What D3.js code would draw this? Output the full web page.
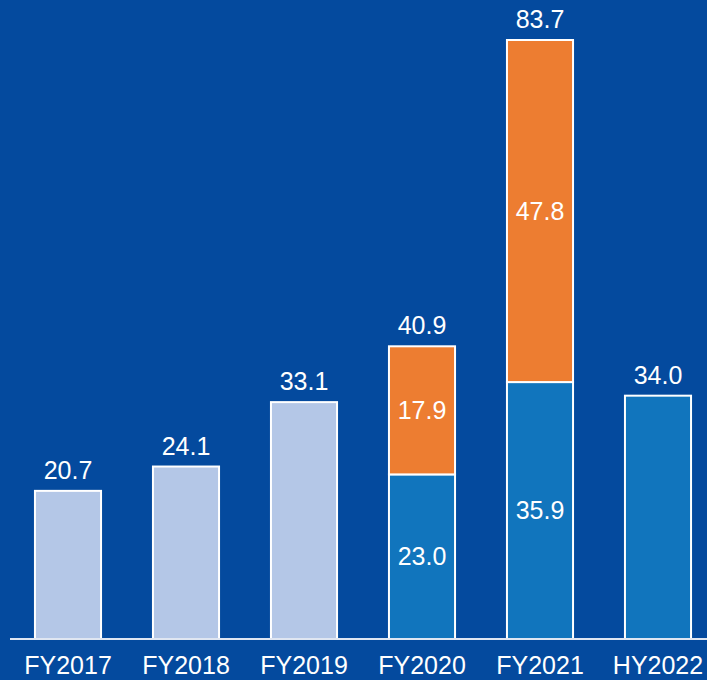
<!DOCTYPE html>
<html>
<head>
<meta charset="utf-8">
<script src="https://cdn.jsdelivr.net/npm/d3@7"></script>
<style>
  html, body { margin: 0; padding: 0; background: #044a9e; }
  svg { display: block; }
  text { font-family: "Liberation Sans", Arial, sans-serif; fill: #fff; }
</style>
</head>
<body>
<svg id="chart"></svg>
<script>
// data
var categories = ['FY2017', 'FY2018', 'FY2019', 'FY2020', 'FY2021', 'HY2022'];
var baseValues = [20.7, 24.1, 33.1, 23.0, 35.9, 34.0];
var topValues  = [0, 0, 0, 17.9, 47.8, 0];
var totalLabels = ['20.7', '24.1', '33.1', '40.9', '83.7', '34.0'];
var baseLabels  = ['', '', '', '23.0', '35.9', ''];
var topLabels   = ['', '', '', '17.9', '47.8', ''];

var w = 707, h = 680;
var baseY = 639;
var fs = '25px';

var svg = d3.select('#chart').attr('width', w).attr('height', h);
svg.append('rect').attr('width', w).attr('height', h).attr('fill', '#044a9e');

var x = d3.scaleBand().domain(categories).range([9, 717]).paddingInner(0.44).paddingOuter(0.22);
var y = d3.scaleLinear().domain([0, 83.7]).range([baseY, 40]);

function baseColor(i) {
    return topValues[i] > 0 || i === 5 ? '#1175bd' : '#b4c7e7';
}

var g = svg.append('g');

// lower segments
g.selectAll('.base').data(categories).enter().append('rect')
    .attr('class', 'base')
    .attr('x', function (d) { return x(d); })
    .attr('width', x.bandwidth())
    .attr('y', function (d, i) { return y(baseValues[i]); })
    .attr('height', function (d, i) { return y(0) - y(baseValues[i]); })
    .attr('fill', function (d, i) { return baseColor(i); })
    .attr('stroke', '#fff').attr('stroke-width', 2);

// upper (orange) segments
g.selectAll('.top').data(categories.filter(function (d, i) { return topValues[i] > 0; }))
    .enter().append('rect')
    .attr('class', 'top')
    .attr('x', function (d) { return x(d); })
    .attr('width', x.bandwidth())
    .attr('y', function (d) { var i = categories.indexOf(d); return y(baseValues[i] + topValues[i]); })
    .attr('height', function (d) { var i = categories.indexOf(d); return y(baseValues[i]) - y(baseValues[i] + topValues[i]); })
    .attr('fill', '#ed7d31')
    .attr('stroke', '#fff').attr('stroke-width', 2);

// baseline
svg.append('line')
    .attr('x1', 10).attr('x2', w)
    .attr('y1', baseY).attr('y2', baseY)
    .attr('stroke', '#dfe6f2').attr('stroke-width', 2);

// total labels
g.selectAll('.total').data(categories).enter().append('text')
    .attr('x', function (d) { return x(d) + x.bandwidth() / 2; })
    .attr('y', function (d, i) { return y(baseValues[i] + topValues[i]) - 12; })
    .attr('text-anchor', 'middle')
    .style('font-size', fs)
    .text(function (d, i) { return totalLabels[i]; });

// segment labels
g.selectAll('.blab').data(categories).enter().append('text')
    .attr('x', function (d) { return x(d) + x.bandwidth() / 2; })
    .attr('y', function (d, i) { return (y(0) + y(baseValues[i])) / 2; })
    .attr('dy', '0.35em')
    .attr('text-anchor', 'middle')
    .style('font-size', fs)
    .text(function (d, i) { return baseLabels[i]; });

g.selectAll('.tlab').data(categories).enter().append('text')
    .attr('x', function (d) { return x(d) + x.bandwidth() / 2; })
    .attr('y', function (d, i) { return (y(baseValues[i]) + y(baseValues[i] + topValues[i])) / 2; })
    .attr('dy', '0.35em')
    .attr('text-anchor', 'middle')
    .style('font-size', fs)
    .text(function (d, i) { return topLabels[i]; });

// category axis labels
var xAxis = d3.axisBottom(x).tickSize(0).tickPadding(0);
var ax = svg.append('g').attr('transform', 'translate(0,' + 674 + ')').call(xAxis);
ax.select('.domain').remove();
ax.selectAll('text').attr('dy', 0).attr('y', 0)
    .style('font-size', fs)
    .style('font-family', '"Liberation Sans", Arial, sans-serif')
    .attr('fill', '#fff');
</script>
</body>
</html>
